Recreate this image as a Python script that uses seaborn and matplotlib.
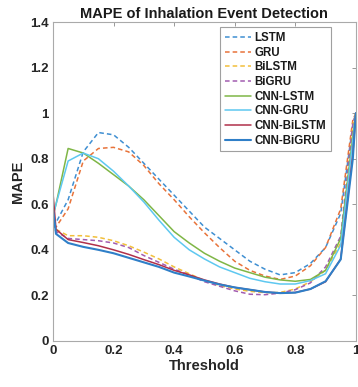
import pandas as pd
import seaborn as sns
import matplotlib.pyplot as plt
import numpy as np

thresholds = [0, 0.01, 0.05, 0.10, 0.15, 0.20, 0.25, 0.30, 0.35, 0.40, 0.45, 0.50,
              0.55, 0.60, 0.65, 0.70, 0.75, 0.80, 0.85, 0.90, 0.95, 0.99, 1.0]

lstm = [0.50, 0.52, 0.62, 0.83, 0.915, 0.905, 0.85, 0.78, 0.71, 0.64, 0.57, 0.50,
        0.45, 0.40, 0.35, 0.315, 0.29, 0.30, 0.34, 0.41, 0.56, 0.95, 1.0]
gru = [0.50, 0.50, 0.58, 0.79, 0.845, 0.85, 0.83, 0.77, 0.69, 0.62, 0.545, 0.475,
       0.41, 0.35, 0.31, 0.285, 0.27, 0.285, 0.33, 0.41, 0.58, 0.97, 1.0]
bilstm = [0.52, 0.49, 0.462, 0.462, 0.455, 0.44, 0.418, 0.39, 0.36, 0.325, 0.295, 0.265,
          0.243, 0.228, 0.218, 0.212, 0.213, 0.228, 0.26, 0.31, 0.43, 0.95, 1.0]
bigru = [0.52, 0.48, 0.45, 0.445, 0.44, 0.43, 0.41, 0.375, 0.345, 0.315, 0.29, 0.26,
         0.24, 0.22, 0.205, 0.203, 0.21, 0.225, 0.255, 0.325, 0.46, 0.95, 1.0]
cnn_lstm = [0.55, 0.60, 0.845, 0.825, 0.78, 0.73, 0.68, 0.62, 0.55, 0.48, 0.43, 0.385,
            0.35, 0.32, 0.30, 0.28, 0.268, 0.262, 0.27, 0.31, 0.45, 0.90, 1.0]
cnn_gru = [0.55, 0.60, 0.79, 0.825, 0.80, 0.745, 0.68, 0.61, 0.53, 0.455, 0.40, 0.36,
           0.325, 0.30, 0.275, 0.26, 0.25, 0.25, 0.265, 0.295, 0.42, 0.88, 1.0]
cnn_bilstm = [0.65, 0.49, 0.445, 0.432, 0.418, 0.40, 0.38, 0.357, 0.335, 0.31, 0.29, 0.268,
              0.25, 0.235, 0.225, 0.215, 0.21, 0.213, 0.228, 0.26, 0.36, 0.82, 1.0]
cnn_bigru = [0.58, 0.47, 0.43, 0.413, 0.40, 0.385, 0.365, 0.345, 0.325, 0.30, 0.283, 0.265,
             0.248, 0.235, 0.225, 0.215, 0.21, 0.212, 0.228, 0.262, 0.358, 0.80, 1.0]

models = ['LSTM', 'GRU', 'BiLSTM', 'BiGRU', 'CNN-LSTM', 'CNN-GRU', 'CNN-BiLSTM', 'CNN-BiGRU']
values = [lstm, gru, bilstm, bigru, cnn_lstm, cnn_gru, cnn_bilstm, cnn_bigru]

colors = ['#3f8fd2', '#e8733a', '#f2bf3a', '#a25cb0',
          '#7fb646', '#5ec8f0', '#b0304a', '#2f7fc8']
styles = ['--', '--', '--', '--', '-', '-', '-', '-']
widths = [1.1, 1.1, 1.1, 1.1, 1.1, 1.1, 1.1, 1.5]

df = pd.DataFrame({
    'Threshold': np.tile(thresholds, len(models)),
    'MAPE': np.concatenate(values),
    'Model': np.repeat(models, len(thresholds)),
})

sns.set_style('white')
plt.rcParams['font.family'] = ['Liberation Sans', 'DejaVu Sans']
plt.rcParams['font.weight'] = 'bold'

fig = plt.figure(figsize=(3.58, 3.87), dpi=100)
ax = fig.add_axes([0.148, 0.119, 0.846, 0.824])

for m, c, ls, lw in zip(models, colors, styles, widths):
    sub = df[df['Model'] == m]
    sns.lineplot(x='Threshold', y='MAPE', data=sub, ax=ax, color=c,
                 linewidth=lw, label=m)
    ax.lines[-1].set_linestyle(ls)
    if ls == '--':
        ax.lines[-1].set_dashes((3, 2))

ax.set_xlim(0, 1)
ax.set_ylim(0, 1.4)
ax.set_xticks([0, 0.2, 0.4, 0.6, 0.8, 1])
ax.set_xticklabels(['0', '0.2', '0.4', '0.6', '0.8', '1'])
ax.set_yticks([0, 0.2, 0.4, 0.6, 0.8, 1, 1.2, 1.4])
ax.set_yticklabels(['0', '0.2', '0.4', '0.6', '0.8', '1', '1.2', '1.4'])
ax.tick_params(direction='in', length=3, width=0.6, color='#888888',
               top=True, right=True, labelsize=9.5, pad=3)
for lab in ax.get_xticklabels() + ax.get_yticklabels():
    lab.set_fontweight('bold')
    lab.set_color('#262626')
for s in ax.spines.values():
    s.set_color('#aaaaaa')
    s.set_linewidth(0.8)

ax.set_xlabel('Threshold', fontsize=10.5, fontweight='bold', color='#262626', labelpad=1)
ax.set_ylabel('MAPE', fontsize=10.5, fontweight='bold', color='#262626', labelpad=4)
ax.set_title('MAPE of Inhalation Event Detection', fontsize=10.5, fontweight='bold',
             color='#1a1a1a', pad=3)

leg = ax.legend(loc='upper right', bbox_to_anchor=(0.917, 0.983), fontsize=8.3,
                frameon=True, fancybox=False, handlelength=2.3, handletextpad=0.3,
                labelspacing=0.23, borderpad=0.4, borderaxespad=0.0)
leg.get_frame().set_edgecolor('#888888')
leg.get_frame().set_linewidth(0.8)
for t in leg.get_texts():
    t.set_fontweight('bold')
    t.set_color('#1a1a1a')

fig.savefig('out.png', dpi=100)
